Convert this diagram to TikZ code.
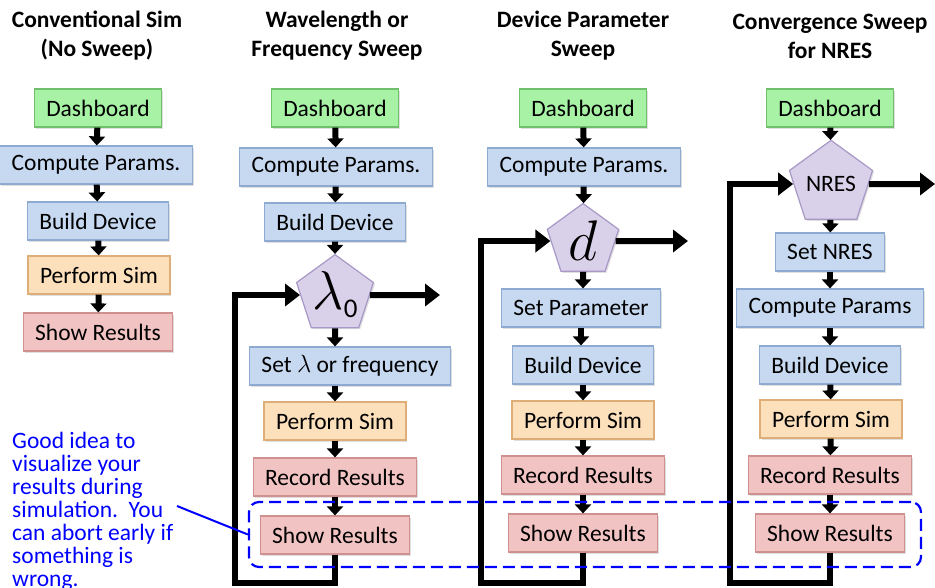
\documentclass[tikz,border=0pt]{standalone}
\usepackage{fontspec}
\setmainfont{Carlito}
\usetikzlibrary{arrows.meta,shapes.geometric,shadows}

\definecolor{dashfill}{HTML}{A8F2A6}
\definecolor{dashline}{HTML}{6FBF6D}
\definecolor{calcfill}{HTML}{C6D9F1}
\definecolor{calcline}{HTML}{8EAAD0}
\definecolor{simfill}{HTML}{FCDFBB}
\definecolor{simline}{HTML}{DDAE78}
\definecolor{resfill}{HTML}{F2C3C3}
\definecolor{resline}{HTML}{CF9090}
\definecolor{sweepfill}{HTML}{D9D1E9}
\definecolor{sweepline}{HTML}{A898C6}

\tikzset{
  box/.style={rectangle, draw, line width=1.2pt, minimum height=38pt, inner xsep=12pt,
    font=\fontsize{23.5}{26}\selectfont,
    drop shadow={shadow xshift=1.5pt, shadow yshift=-1.5pt, opacity=0.25}},
  startbox/.style={box, fill=dashfill, draw=dashline},
  parambox/.style={box, fill=calcfill, draw=calcline},
  simbox/.style={box, fill=simfill, draw=simline},
  resbox/.style={box, fill=resfill, draw=resline},
  sweep/.style={regular polygon, regular polygon sides=5, minimum size=75pt, inner sep=0pt,
    fill=sweepfill, draw=sweepline, line width=1.2pt,
    font=\fontsize{23.5}{26}\selectfont,
    drop shadow={shadow xshift=1.5pt, shadow yshift=-1.5pt, opacity=0.25}},
  heading/.style={align=center, font=\fontsize{23.5}{29}\selectfont\bfseries},
  flow/.style={line width=6pt, -{Triangle[length=9pt,width=16pt]}},
  loopback/.style={line width=6pt, -{Triangle[length=15pt,width=22pt]}},
  zone/.style={draw=blue, dashed, dash pattern=on 12pt off 6pt, line width=2.2pt, rounded corners=10pt},
  noteline/.style={draw=blue, line width=2pt}
}

\begin{document}
\begin{tikzpicture}[x=1pt, y=-1pt]
  \useasboundingbox (0,0) rectangle (935,587);

  % headings
  \node[heading] (h1) at (97,36) {Conventional Sim\\(No Sweep)};
  \node[heading] (h2) at (337,36) {Wavelength or\\Frequency Sweep};
  \node[heading] (h3) at (583,36) {Device Parameter\\Sweep};
  \node[heading] (h4) at (830,36) {Convergence Sweep\\for NRES};

  % no sweep
  \node[startbox] (d1) at (98,108) {Dashboard};
  \node[parambox] (cp1) at (96,165) {Compute Params.};
  \node[parambox] (bd1) at (98,221) {Build Device};
  \node[simbox] (ps1) at (99,275) {Perform Sim};
  \node[resbox] (sr1) at (98,332) {Show Results};
  \draw[flow] (d1) -- (cp1);
  \draw[flow] (cp1) -- (bd1);
  \draw[flow] (bd1) -- (ps1);
  \draw[flow] (ps1) -- (sr1);

  % wavelength sweep
  \node[startbox] (d2) at (335,108) {Dashboard};
  \node[parambox] (cp2) at (336,167) {Compute Params.};
  \node[parambox] (bd2) at (335,222) {Build Device};
  \node[sweep] (lam) at (335,295) {\scalebox{2.2}{$\lambda$}\raisebox{-8pt}{\fontsize{27}{27}\selectfont 0}};
  \node[parambox] (sl2) at (350,366) {Set $\lambda$ or frequency};
  \node[simbox] (ps2) at (335,421) {Perform Sim};
  \node[resbox] (rr2) at (335,477) {Record Results};
  \node[resbox] (sr2) at (335,535) {Show Results};
  \draw[flow] (d2) -- (cp2);
  \draw[flow] (cp2) -- (bd2);
  \draw[flow] (bd2) -- (lam);
  \draw[flow] (lam) -- (lam |- sl2.north);
  \draw[flow] (ps2 |- sl2.south) -- (ps2);
  \draw[flow] (ps2) -- (rr2);
  \draw[flow] (rr2) -- (sr2);
  \coordinate (lamout) at (440,295);
  \coordinate (lamback) at (235,583);
  \draw[loopback] (sr2.south) |- (lamback) |- (lam.180);
  \draw[loopback] (lam.0) -- (lamout);

  % parameter sweep
  \node[startbox] (d3) at (583,108) {Dashboard};
  \node[parambox] (cp3) at (584,167) {Compute Params.};
  \node[sweep] (dd) at (583,241) {\scalebox{2.3}{$d$}};
  \node[parambox] (sp3) at (581,308) {Set Parameter};
  \node[parambox] (bd3) at (583,365) {Build Device};
  \node[simbox] (ps3) at (583,420) {Perform Sim};
  \node[resbox] (rr3) at (583,475) {Record Results};
  \node[resbox] (sr3) at (583,533) {Show Results};
  \draw[flow] (d3) -- (cp3);
  \draw[flow] (cp3) -- (dd);
  \draw[flow] (dd) -- (dd |- sp3.north);
  \draw[flow] (sp3) -- (sp3 |- bd3.north);
  \draw[flow] (bd3) -- (ps3);
  \draw[flow] (ps3) -- (rr3);
  \draw[flow] (rr3) -- (sr3);
  \coordinate (dout) at (688,241);
  \coordinate (dback) at (481,583);
  \draw[loopback] (sr3.south) |- (dback) |- (dd.180);
  \draw[loopback] (dd.0) -- (dout);

  % convergence sweep
  \node[startbox] (d4) at (830,108) {Dashboard};
  \node[sweep] (nres) at (831,184) {NRES};
  \node[parambox] (sn4) at (830,252) {Set NRES};
  \node[parambox] (cp4) at (830,308) {Compute Params};
  \node[parambox] (bd4) at (830,365) {Build Device};
  \node[simbox] (ps4) at (831,419) {Perform Sim};
  \node[resbox] (rr4) at (830,475) {Record Results};
  \node[resbox] (sr4) at (830,533) {Show Results};
  \draw[flow] (d4) -- (nres);
  \draw[flow] (nres) -- (sn4);
  \draw[flow] (sn4) -- (cp4);
  \draw[flow] (cp4) -- (bd4);
  \draw[flow] (bd4) -- (ps4);
  \draw[flow] (ps4) -- (rr4);
  \draw[flow] (rr4) -- (sr4);
  \coordinate (nout) at (935,184);
  \coordinate (nback) at (730,583);
  \draw[loopback] (sr4.south) |- (nback) |- (nres.180);
  \draw[loopback] (nres.0) -- (nout);

  % live results
  \node[zone, minimum width=672pt, minimum height=65pt] (live) at (585,534.5) {};
  \node[anchor=north west, inner sep=0pt, align=left, text=blue,
    font=\fontsize{23.5}{23}\selectfont] (note) at (12,432)
    {Good idea to\\visualize your\\results during\\simulation.\ \ You\\can abort early if\\something is\\wrong.};
  \coordinate (notetip) at (177,506);
  \draw[noteline] (notetip) -- (live.west);
\end{tikzpicture}
\end{document}
